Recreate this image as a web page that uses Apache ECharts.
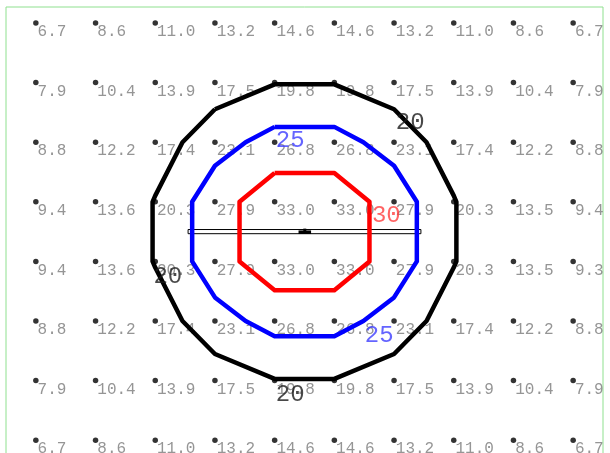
<!DOCTYPE html>
<html>
<head>
<meta charset="utf-8">
<script src="https://cdn.jsdelivr.net/npm/echarts@6/dist/echarts.min.js"></script>
<style>html,body{margin:0;padding:0;background:#fff}#c{width:610px;height:453px}</style>
</head>
<body>
<div id="c"></div>
<script>
// grid values, row 0 = top row
const row0 = [6.7, 8.6, 11.0, 13.2, 14.6, 14.6, 13.2, 11.0, 8.6, 6.7];
const row1 = [7.9, 10.4, 13.9, 17.5, 19.8, 19.8, 17.5, 13.9, 10.4, 7.9];
const row2 = [8.8, 12.2, 17.4, 23.1, 26.8, 26.8, 23.1, 17.4, 12.2, 8.8];
const row3 = [9.4, 13.6, 20.3, 27.9, 33.0, 33.0, 27.9, 20.3, 13.5, 9.4];
const row4 = [9.4, 13.6, 20.3, 27.9, 33.0, 33.0, 27.9, 20.3, 13.5, 9.3];
const row5 = [8.8, 12.2, 17.4, 23.1, 26.8, 26.8, 23.1, 17.4, 12.2, 8.8];
const row6 = [7.9, 10.4, 13.9, 17.5, 19.8, 19.8, 17.5, 13.9, 10.4, 7.9];
const row7 = [6.7, 8.6, 11.0, 13.2, 14.6, 14.6, 13.2, 11.0, 8.6, 6.7];
const rows = [row0, row1, row2, row3, row4, row5, row6, row7];

const levels = [20, 25, 30];
const levelColors = ['#000000', '#0000ff', '#ff0000'];
const labelColors = ['#1a1a1a', '#3d3dff', '#ff3d3d'];

// contour label anchors [x, y, level]
const contourLabels = [
  [6.27, 1.68, 20], [4.26, 1.98, 25], [5.87, 3.24, 30],
  [2.21, 4.25, 20], [5.75, 5.25, 25], [4.26, 6.23, 20]
];

// thin bar across the centre [x0, x1, y0, y1]
const barRect = [2.55, 6.45, 3.465, 3.535];
const barMark = [4.40, 4.61, 3.48, 3.54];
const barBump = [4.48, 4.53, 3.45, 3.49];

// ---- marching squares ----
function contour(L) {
  const R = rows.length, C = rows[0].length;
  const pts = {};
  function hKey(r, c) {
    const a = rows[r][c], b = rows[r][c + 1];
    if ((a >= L) === (b >= L)) return null;
    const k = 'h' + r + ',' + c;
    pts[k] = [c + (L - a) / (b - a), r];
    return k;
  }
  function vKey(r, c) {
    const a = rows[r][c], b = rows[r + 1][c];
    if ((a >= L) === (b >= L)) return null;
    const k = 'v' + r + ',' + c;
    pts[k] = [c, r + (L - a) / (b - a)];
    return k;
  }
  const segs = [];
  for (let r = 0; r < R - 1; r++) {
    for (let c = 0; c < C - 1; c++) {
      const ks = [hKey(r, c), vKey(r, c + 1), hKey(r + 1, c), vKey(r, c)].filter(k => k);
      if (ks.length === 2) segs.push([ks[0], ks[1]]);
      else if (ks.length === 4) { segs.push([ks[0], ks[1]]); segs.push([ks[2], ks[3]]); }
    }
  }
  const adj = {};
  segs.forEach((s, i) => { s.forEach(k => { (adj[k] = adj[k] || []).push(i); }); });
  const used = new Array(segs.length).fill(false);
  const lines = [];
  for (let i = 0; i < segs.length; i++) {
    if (used[i]) continue;
    used[i] = true;
    const chain = [segs[i][0], segs[i][1]];
    let cur = segs[i][1];
    while (true) {
      const nxt = (adj[cur] || []).find(j => !used[j]);
      if (nxt === undefined) break;
      used[nxt] = true;
      cur = segs[nxt][0] === cur ? segs[nxt][1] : segs[nxt][0];
      chain.push(cur);
    }
    lines.push(chain.map(k => pts[k]));
  }
  return lines;
}

const series = [];
const pointData = [];
rows.forEach((row, r) => row.forEach((v, c) => pointData.push([c, r, v])));
series.push({
  type: 'scatter', z: 1, data: pointData, symbol: 'circle', symbolSize: 5.5,
  itemStyle: { color: '#000' }, silent: true, clip: false,
  label: {
    show: true, position: 'right', distance: 0, offset: [-1, 9],
    formatter: p => p.value[2].toFixed(1),
    fontFamily: 'Liberation Mono', fontSize: 16, color: '#7a7a7a'
  }
});

series.push({
  type: 'custom', z: 2, silent: true,
  data: [barRect, barMark, barBump],
  renderItem: function (params, api) {
    const p0 = api.coord([api.value(0), api.value(2)]);
    const p1 = api.coord([api.value(1), api.value(3)]);
    const isBar = params.dataIndex === 0;
    return {
      type: 'rect',
      shape: { x: p0[0], y: p0[1], width: p1[0] - p0[0], height: p1[1] - p0[1] },
      style: isBar ? { fill: '#fff', stroke: '#000', lineWidth: 1 } : { fill: '#000' }
    };
  },
  encode: { x: [0, 1], y: [2, 3] }
});

levels.forEach((L, li) => {
  contour(L).forEach(line => {
    series.push({
      type: 'line', z: 3, data: line, showSymbol: false, symbol: 'none', silent: true,
      lineStyle: { color: levelColors[li], width: 4.5, join: 'round' },
      animation: false
    });
  });
});

series.push({
  type: 'scatter', z: 4, silent: true, symbolSize: 1, clip: false,
  itemStyle: { color: 'rgba(0,0,0,0)' },
  data: contourLabels.map(d => ({
    value: d,
    label: { color: labelColors[levels.indexOf(d[2])] }
  })),
  label: {
    show: true, position: 'inside',
    formatter: p => String(p.value[2]),
    fontFamily: 'Liberation Mono', fontSize: 24
  }
});

const chart = echarts.init(document.getElementById('c'), null, { renderer: 'canvas' });
chart.setOption({
  animation: false,
  backgroundColor: '#fff',
  grid: {
    left: 6, right: 7, top: 7, height: 463, outerBoundsMode: 'none', containLabel: false,
    show: true, borderColor: '#8fe08f', borderWidth: 1, backgroundColor: 'transparent'
  },
  xAxis: { type: 'value', min: -0.5, max: 9.5, show: false },
  yAxis: { type: 'value', min: -0.2686, max: 7.5, inverse: true, show: false },
  series: series
});
</script>
</body>
</html>
